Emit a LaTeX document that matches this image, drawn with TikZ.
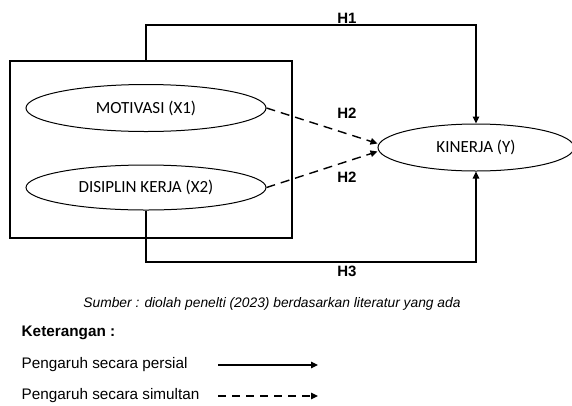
\documentclass[tikz,border=0pt]{standalone}
\usepackage{fontspec}
\setmainfont{Liberation Sans}
\newfontfamily\calib{Carlito}
\usetikzlibrary{arrows.meta,shapes.geometric}
\begin{document}
\begin{tikzpicture}[x=1pt,y=-1pt,
  line width=1.4pt,
  tip/.style={-{Triangle[length=7pt,width=6.5pt]}},
  var/.style={ellipse, draw, line width=1pt, inner sep=0pt, font=\calib\fontsize{17}{19}\selectfont},
  hyp/.style={font=\bfseries\fontsize{15}{17}\selectfont},
  dsh/.style={dash pattern=on 9pt off 6pt},
  txt/.style={anchor=west, inner sep=0pt, font=\fontsize{15.3}{18}\selectfont}]
\useasboundingbox (0,0) rectangle (572,405);
% frame around the independent variables
\node[draw, minimum width=282pt, minimum height=177pt, inner sep=0pt] (frame) at (151,149.5) {};
% variables
\node[var, minimum width=240pt, minimum height=47pt] (mot) at (146,108) {MOTIVASI (X1)};
\node[var, minimum width=240pt, minimum height=45pt] (dis) at (146,187.5) {DISIPLIN KERJA (X2)};
\node[var, minimum width=196pt, minimum height=47pt] (kin) at (476,147.5) {KINERJA (Y)};
% H1: partial effect from the frame to KINERJA
\coordinate (h1) at (146,25);
\draw[tip] (frame.north -| mot.center) -- (h1) -| (kin.north);
\node[hyp] (lh1) at (347,18) {H1};
% H3: partial effect from DISIPLIN KERJA to KINERJA
\coordinate (h3) at (146,262);
\draw[tip] (dis.south) -- (h3) -| (kin.south);
\node[hyp] (lh3) at (347,271) {H3};
% H2: simultaneous effect
\draw[tip, dsh] (mot.east) -- ([yshift=4pt]kin.west);
\draw[tip, dsh] (dis.east) -- ([yshift=-4pt]kin.west);
\node[hyp] (lh2a) at (347,113) {H2};
\node[hyp] (lh2b) at (347,177) {H2};
% source
\node[font=\itshape\fontsize{13.8}{16}\selectfont, inner sep=0pt] (src) at (272,304) {Sumber : diolah penelti (2023) berdasarkan literatur yang ada};
% legend
\node[txt, font=\bfseries\fontsize{15.3}{18}\selectfont] (ket) at (21,333) {Keterangan :};
\node[txt] (lp) at (21,365) {Pengaruh secara persial};
\node[txt] (ls) at (21,396) {Pengaruh secara simultan};
\coordinate (pa) at (218,365); \coordinate (pb) at (318,365);
\coordinate (sa) at (218,396); \coordinate (sb) at (318,396);
\draw[tip, line width=1.2pt] (pa) -- (pb);
\draw[tip, line width=1.2pt, dash pattern=on 8pt off 6pt] (sa) -- (sb);
\end{tikzpicture}
\end{document}
